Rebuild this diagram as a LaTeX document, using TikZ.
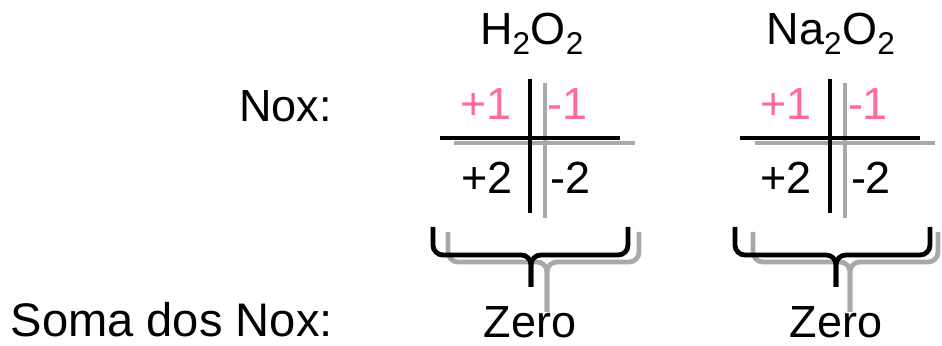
\documentclass[tikz,border=0pt]{standalone}
\usepackage{fontspec}
\setmainfont{Liberation Sans}
\usepackage{tikz}
\usetikzlibrary{positioning, calc}
\definecolor{noxpink}{HTML}{FF6A9E}
\definecolor{shadowgray}{HTML}{A8A8A8}

\begin{document}
\begin{tikzpicture}[x=0.025cm, y=-0.025cm,
    every node/.style={font=\fontsize{32}{38}\selectfont, inner sep=0pt},
    crossline/.style={line width=3.4pt, black},
    shadowline/.style={line width=3.4pt, shadowgray},
    bracket/.style={line width=3.4pt, rounded corners=7pt}]
 			\useasboundingbox (0,0) rectangle (942,346);
 			
 			% Labels
 			\node[anchor=base east] (nox) at (332,122) {Nox:};
 			\node[anchor=base east, font=\fontsize{33.5}{40}\selectfont] (soma) at (333,337) {Soma dos Nox:};
 			
 			% Formulas
 			\node[anchor=base] (h2o2) at (532,45) {H\textsubscript{2}O\textsubscript{2}};
 			\node[anchor=base] (na2o2) at (831,45) {Na\textsubscript{2}O\textsubscript{2}};
 			
 			% Shadows first
 			\draw[shadowline] (545,83) -- (545,218);
 			\draw[shadowline] (454,143) -- (635,143);
 			\draw[shadowline] (845,83) -- (845,218);
 			\draw[shadowline] (755,143) -- (935,143);
 			\draw[bracket, shadowgray] (448,232) |- (547,262) -- (547,312);
 			\draw[bracket, shadowgray] (639,232) |- (547,262) -- (547,312);
 			\draw[bracket, shadowgray] (753,232) |- (850,262) -- (850,312);
 			\draw[bracket, shadowgray] (938,232) |- (850,262) -- (850,312);
 			
 			% Crosses
 			\coordinate (atop) at (530,79);
 			\coordinate (abot) at (530,213);
 			\coordinate (aleft) at (440,138);
 			\coordinate (aright) at (620,138);
 			\draw[crossline] (atop) -- (abot);
 			\draw[crossline] (aleft) -- (aright);
 			\coordinate (btop) at (830,79);
 			\coordinate (bbot) at (830,213);
 			\coordinate (bleft) at (740,138);
 			\coordinate (bright) at (920,138);
 			\draw[crossline] (btop) -- (bbot);
 			\draw[crossline] (bleft) -- (bright);
 			
 			% Values
 			\node[anchor=base, noxpink] (ah) at (486,120) {+1};
 			\node[anchor=base, noxpink] (ao) at (568,120) {-1};
 			\node[anchor=base] (ahsum) at (487,194) {+2};
 			\node[anchor=base] (aosum) at (571,194) {-2};
 			\node[anchor=base, noxpink] (bna) at (786,120) {+1};
 			\node[anchor=base, noxpink] (bo) at (868,120) {-1};
 			\node[anchor=base] (bnasum) at (786,194) {+2};
 			\node[anchor=base] (bosum) at (871,194) {-2};
 			
 			% Brackets
 			\draw[bracket] (433,227) |- (531,255) -- (531,287);
 			\draw[bracket] (628,227) |- (531,255) -- (531,287);
 			\draw[bracket] (735,227) |- (836,255) -- (836,287);
 			\draw[bracket] (930,227) |- (836,255) -- (836,287);
 			
 			% Sums
 			\node[anchor=base] (azero) at (530,338) {Zero};
 			\node[anchor=base] (bzero) at (836,338) {Zero};
 			
 		\end{tikzpicture}
\end{document}
